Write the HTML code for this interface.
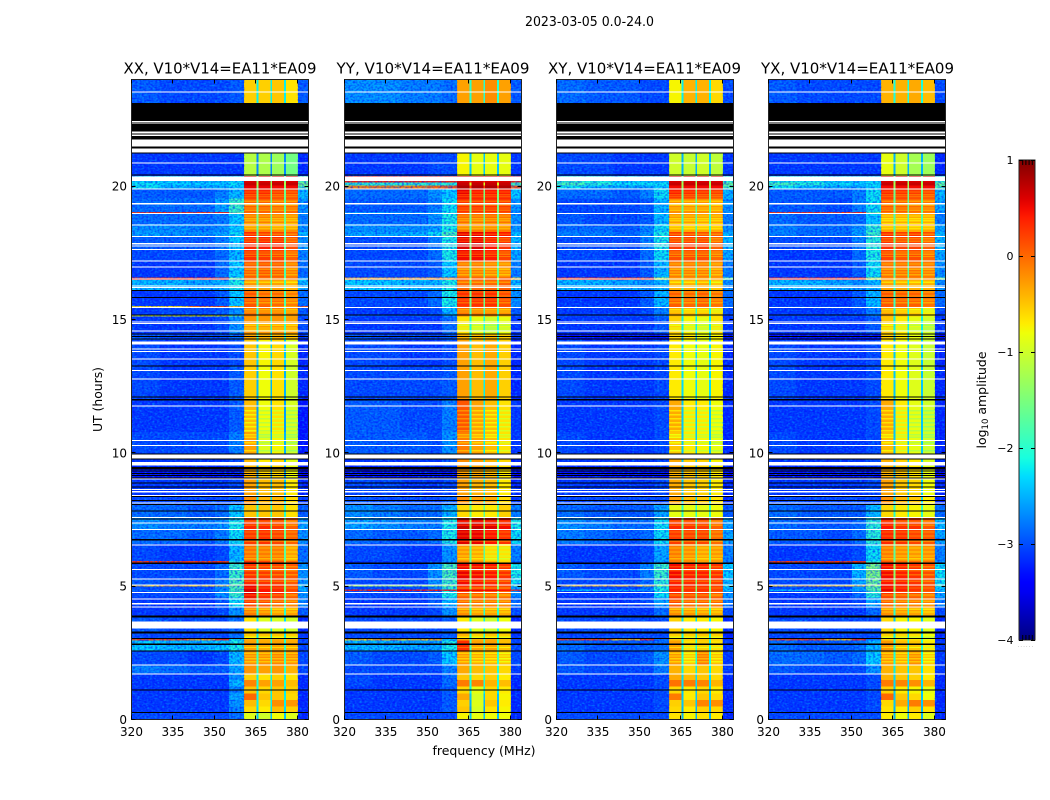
<!DOCTYPE html>
<html lang="en">
<head>
<meta charset="utf-8">
<title>2023-03-05 0.0-24.0</title>
<style>
html,body{margin:0;padding:0;background:#fff;width:1050px;height:800px;overflow:hidden}
svg{display:block}
text{font-family:"DejaVu Sans","Liberation Sans",sans-serif;fill:#000}
</style>
</head>
<body>
<svg id="chart" xmlns="http://www.w3.org/2000/svg" width="1050" height="800" viewBox="0 0 1050 800">
  <defs>
    <filter id="speckle-light" x="0" y="0" width="100%" height="100%" color-interpolation-filters="sRGB">
      <feTurbulence type="fractalNoise" baseFrequency="0.4 0.6" numOctaves="1" seed="3"/>
      <feColorMatrix type="matrix" values="0 0 0 0 0  0 0 0 0 .7  0 0 0 0 1  1.5 0 0 0 -.68"/>
    </filter>
    <filter id="speckle-dark" x="0" y="0" width="100%" height="100%" color-interpolation-filters="sRGB">
      <feTurbulence type="fractalNoise" baseFrequency="0.45 0.55" numOctaves="1" seed="11"/>
      <feColorMatrix type="matrix" values="0 0 0 0 0  0 0 0 0 0  0 0 0 0 1  0 1.5 0 0 -.6"/>
    </filter>
  </defs>
  <rect x="0" y="0" width="1050" height="800" fill="#fff"/>
  <text x="589.5" y="26" text-anchor="middle" font-size="13" textLength="129" lengthAdjust="spacingAndGlyphs">2023-03-05 0.0-24.0</text>
  <text x="484" y="755" text-anchor="middle" font-size="12.5" textLength="103" lengthAdjust="spacingAndGlyphs">frequency (MHz)</text>
  <text transform="translate(102,399.5) rotate(-90)" text-anchor="middle" font-size="12.5" textLength="65" lengthAdjust="spacingAndGlyphs">UT (hours)</text>
  <text transform="translate(986,400) rotate(-90)" text-anchor="middle" font-size="12.5">log<tspan font-size="8.5" dy="2">10</tspan><tspan dy="-2"> amplitude</tspan></text>
  <g id="panels"></g>
  <g id="colorbar"></g>
</svg>
<script>
// Time-block boundaries (UT hours, top to bottom)
const timeEdges = [24,21.25,20.4,20.15,20.05,19.9,19.55,19.05,18.98,18.6,18.3,18.12,17.64,17.22,16.6,16.5,16.1,15.52,15.45,15.2,15.14,14.5,14.25,13.3,12,10.8,10,9.5,9.05,8.4,8.1,7.6,7.14,6.6,5.97,5.9,5.3,5.07,5,4.9,4.83,4.6,4.25,3.9,3.28,3.04,2.98,2.6,2.07,1.73,1.5,1.25,1,.75,.5,.28,0];
// Frequency channel-group boundaries (MHz)
const freqEdges = [320,330,340,350,355,360.5,365,365.8,370,370.7,375,375.7,380,384];
// Which level column each frequency group reads
const levelColumn = [0,1,2,3,4,5,9,6,9,7,9,8,10];

// log10 amplitude per time block: 320-330, 330-340, 340-350, 350-355, 355-360, band1..band4, notch, 380-384
const xxLevels = [
[-2.9,-3,-3,-3,-2.9,-.55,-.55,-.5,-.65,-2.2,-2.9],
[-3.1,-3.1,-3.1,-3.1,-3.1,-1.15,-1.2,-1.3,-1.55,-2.7,-3.2],
[-2.3,-2.3,-2.4,-2.4,-2.3,.6,.6,.6,.6,-1.5,-1.8],
[-2.2,-2.3,-2.3,-2.3,-2.2,.7,.7,.7,.7,-1.2,-1.5],
[-2.2,-2.4,-2.5,-2.5,-2.3,.55,.55,.5,.5,-1.5,-1.8],
[-2.9,-2.9,-2.9,-2.7,-2.4,.35,.35,.25,.2,-1.6,-2.4],
[-2.8,-2.8,-2.8,-2.5,-1.9,.05,.05,0,0,-1.7,-2.6],
[.3,.35,.3,.35,-1.6,0,0,0,0,-1.5,-2.6],
[-2.8,-2.8,-2.8,-2.7,-2.3,-.1,-.1,-.15,-.2,-1.6,-2.7],
[-2.6,-2.6,-2.7,-2.6,-2.3,-.15,-.15,-.2,-.2,-1.7,-2.6],
[-2.5,-2.6,-2.6,-2.5,-2.2,.35,.25,.2,.1,-1.7,-2.4],
[-2.9,-2.9,-2.9,-2.7,-2.3,.35,.4,.35,.15,-1.7,-2.6],
[-3,-3,-3,-2.8,-2.4,.3,.25,.2,.05,-1.7,-2.7],
[-3.1,-3.1,-3.1,-2.8,-2.3,.05,.1,.05,-.1,-1.8,-2.8],
[.3,.35,.3,.3,-1.6,-.1,-.1,-.1,-.1,-1.5,-2.5],
[-2.4,-2.4,-2.5,-2.4,-2.1,-.25,-.3,-.3,-.4,-1.8,-2.4],
[-3.1,-3.1,-3.1,-2.9,-2.3,.1,0,0,-.1,-1.8,-2.8],
[-.6,-.6,0,.2,-.5,.1,.05,-.2,-.3,-1,.1],
[-3.1,-3,-3,-2.9,-2.6,-.05,-.1,-.1,-.2,-1.9,-2.9],
[-.9,-.8,-.8,-.9,-1.5,-.1,-.2,-.2,-.3,-1.5,-2.9],
[-3.1,-3.1,-3.1,-3,-2.6,-.25,-.25,-.25,-.3,-1.9,-3],
[-2.9,-3,-3,-3,-2.8,-.35,-.4,-.4,-.5,-2.1,-3.1],
[-3,-3.1,-3.1,-3.1,-3,-.5,-.75,-.6,-.95,-2.4,-3.2],
[-3,-3.1,-3.1,-3.1,-2.9,-.55,-.8,-.65,-1,-2.5,-3.2],
[-3.1,-3.1,-3.1,-3.1,-2.9,-.45,-.8,-.65,-.95,-2.6,-3.3],
[-3,-3,-3,-3,-2.7,-.3,-.9,-.75,-1,-2.5,-3.3],
[-3.1,-3.1,-3.1,-3.1,-3,-.45,-.7,-.6,-.9,-2.5,-3.2],
[-3.3,-3.3,-3.3,-3.3,-3.3,-.4,-.6,-.6,-.8,-2.6,-3.4],
[-3.1,-3.1,-3.1,-3.1,-3,-.3,-.45,-.45,-.7,-2.4,-3.2],
[-3,-3,-3,-3,-2.9,-.2,-.4,-.4,-.6,-2.3,-3.1],
[-2.8,-2.8,-2.9,-2.8,-2.3,-.5,-.5,-.5,-.65,-2,-2.9],
[-2.6,-2.7,-2.7,-2.6,-2.1,.35,.35,.25,.05,-1.6,-2.5],
[-2.8,-2.8,-2.9,-2.7,-2.2,.25,.3,.2,.05,-1.6,-2.6],
[-3,-3.1,-3.1,-3,-2.4,-.05,-.1,-.1,-.3,-1.7,-2.8],
[.3,.3,.3,.3,-2,.3,.2,.1,0,-1.5,-2.7],
[-3,-3,-3,-2.8,-1.9,.3,.25,.2,.1,-1.6,-2.6],
[-2.9,-3,-3,-2.7,-1.8,.35,.3,.25,.1,-1.5,-2.6],
[-.5,-.4,-.5,-.6,-1.5,.5,.3,.3,.1,-1.2,-2],
[-3,-3,-3,-2.7,-1.8,.55,.4,.35,.15,-1.5,-2.5],
[-2.8,-2.8,-2.8,-2.6,-1.8,.6,.45,.35,.2,-1.5,-2.4],
[-3,-3,-3,-2.6,-1.9,.6,.45,.35,.15,-1.5,-2.6],
[-3.1,-3.1,-3.1,-2.9,-2.2,.3,.2,.1,0,-1.7,-2.7],
[-3.1,-3.1,-3.1,-3,-2.6,-.1,-.2,-.3,-.3,-2,-2.9],
[-2.9,-3,-3,-3,-2.8,-.65,-.9,-.95,-1,-2.3,-3.2],
[-3,-3,-3,-3,-2.8,-.5,-.5,-.5,-.55,-2.2,-3.1],
[.2,.2,-.3,.3,-2.2,-.35,-.4,-.35,-.4,-2,-3.1],
[-2.3,-2.4,-2.4,-2.3,-2.1,-.3,-.35,-.3,-.35,-2,-3],
[-3,-3,-3.1,-3,-2.4,-.2,-.2,-.15,-.2,-1.9,-3],
[-2.7,-2.8,-2.9,-2.9,-2.5,-.25,-.3,-.25,-.4,-2,-3],
[-3.1,-3.1,-3.1,-3.1,-2.6,-.55,-.65,-.55,-.65,-2.2,-3.2],
[-3.1,-3.1,-3.1,-3.1,-2.4,-.15,-.3,-.3,-.45,-2.1,-3.2],
[-3.1,-3.1,-3.1,-3.1,-2.7,-.5,-.6,-.5,-.55,-2.2,-3.2],
[-3.1,-3.1,-3.1,-3.1,-2.5,0,-.5,-.5,-.6,-2.2,-3.2],
[-3.1,-3.1,-3.1,-3.1,-2.6,-.45,-.6,-.2,-.25,-2.2,-3.2],
[-3.1,-3.1,-3.1,-3.1,-2.7,-.6,-.7,-.45,-.55,-2.3,-3.2],
[-3,-3,-3,-3,-2.8,-.9,-1,-.8,-.9,-2.4,-3.2]
];
const yyLevels = [
[-2.6,-2.6,-2.7,-2.7,-2.8,-.3,-.3,-.2,-.3,-2,-2.9],
[-3.1,-3.1,-3.1,-3,-3,-.75,-.85,-.85,-.85,-2.4,-3.1],
[.4,.4,.4,.4,.4,.6,.6,.6,.6,.4,.4],
[-2,-2,-2,-2,-2,.7,.7,.7,.7,-1,-1.8],
[-.1,-.1,-.1,0,.1,.8,.8,.8,.8,.2,.1],
[-2.8,-2.8,-2.8,-2.6,-2.3,.55,.45,.45,.4,-1.5,-2.3],
[-2.9,-2.9,-2.9,-2.7,-2.2,.3,.3,.3,.25,-1.6,-2.6],
[-2.6,-2.6,-2.6,-2.5,-2.1,.15,.1,.1,.1,-1.6,-2.6],
[-2.8,-2.8,-2.8,-2.6,-2.1,0,-.05,0,-.05,-1.6,-2.6],
[-2.6,-2.6,-2.6,-2.5,-2.1,-.05,-.1,-.05,-.1,-1.6,-2.6],
[-2.5,-2.5,-2.4,-2.2,-1.8,.6,.55,.5,.45,-1.5,-2.3],
[-3,-3,-3,-2.7,-2.1,.6,.6,.45,.3,-1.5,-2.4],
[-3,-3,-3,-2.8,-2.1,.5,.5,.4,.2,-1.5,-2.5],
[-3,-3,-3,-2.9,-2.3,-.1,-.1,-.15,-.2,-1.7,-2.7],
[-.3,-.3,-.3,-.2,-.2,.1,.1,.1,.1,-1,-.5],
[-2.3,-2.3,-2.4,-2.4,-2.1,0,0,0,.05,-1.7,-2.4],
[-3,-3,-3,-2.8,-2.1,.3,.3,.3,.15,-1.6,-2.6],
[-3,-3,-3,-2.9,-2.2,.2,.2,.15,.1,-1.6,-2.6],
[-3.1,-3.1,-3.1,-3,-2.4,-.05,-.1,-.15,-.2,-1.8,-2.9],
[-2.9,-2.9,-2.9,-2.9,-2.5,-.15,-.2,-.2,-.3,-1.9,-2.9],
[-3.1,-3.1,-3.1,-3.1,-2.8,-.65,-.85,-1,-.85,-2.1,-3.1],
[-2.9,-3,-3,-3,-2.9,-.4,-.45,-.45,-.55,-2,-3.1],
[-3,-3,-3.1,-3.1,-3,-.3,-.45,-.35,-.55,-2.2,-3.2],
[-3,-3,-3,-3,-2.9,-.3,-.45,-.35,-.55,-2.2,-3.2],
[-2.9,-2.9,-3,-3,-2.7,.1,-.3,-.45,-.65,-2.2,-3.1],
[-2.9,-2.9,-2.9,-3,-2.6,-.1,-.3,-.45,-.65,-2.2,-3.1],
[-3.1,-3.1,-3.1,-3.1,-2.9,-.2,-.3,-.4,-.6,-2.2,-3.2],
[-3.3,-3.3,-3.3,-3.3,-3.3,-.3,-.35,-.45,-.7,-2.3,-3.4],
[-3,-3,-3.1,-3.1,-3,-.3,-.4,-.45,-.7,-2.2,-3.2],
[-2.9,-3,-3,-3,-2.9,-.2,-.3,-.35,-.6,-2.1,-3.1],
[-2.6,-2.7,-2.8,-2.8,-2.4,-.6,-.7,-.7,-.55,-1.7,-2.7],
[-2.5,-2.6,-2.7,-2.7,-2.1,.7,.7,.6,.5,-1.3,-2.1],
[-2.8,-2.9,-2.9,-2.8,-2.1,.6,.55,.45,.3,-1.4,-2.2],
[-3,-3,-3.1,-3.1,-2.6,-.25,-.35,-.6,-.65,-1.7,-2.7],
[-3.1,-3.1,-3.1,-3,-2.6,-.1,-.2,-.4,-.6,-1.8,-2.8],
[-2.9,-3,-3,-2.6,-1.8,.55,.5,.45,.3,-1.4,-2.1],
[-3,-3,-3,-2.6,-1.9,.5,.45,.35,.25,-1.4,-2.2],
[-1.2,-1.2,-1.3,-1.3,-1.4,.4,.4,.35,.25,-1.2,-1.8],
[-3,-3,-3,-2.7,-2,.2,.15,.15,.1,-1.5,-2.5],
[.4,.45,.45,.4,.35,.55,.5,.5,.45,.4,.3],
[-3,-3,-3,-2.8,-2.1,.15,.1,.05,0,-1.6,-2.6],
[-3.1,-3.1,-3.1,-2.9,-2.4,.05,0,0,-.05,-1.7,-2.8],
[-3.1,-3.1,-3.1,-3,-2.6,-.2,-.3,-.3,-.35,-2,-3],
[-3,-3,-3,-3,-2.9,-.7,-.9,-1,-.8,-2.2,-3.2],
[-3,-3,-3,-3,-2.9,-.4,-.55,-.5,-.55,-2.1,-3.1],
[-.5,-.3,-.5,-.3,-2.4,-.3,-.4,-.35,-.45,-2,-3.1],
[-2.4,-2.4,-2.5,-2.5,-2.1,.3,-.3,-.3,-.45,-1.9,-3],
[-2.9,-3,-3,-2.9,-2.3,-.25,-.35,-.4,-.5,-1.9,-3],
[-3,-3,-3,-3,-2.7,-.35,-.45,-.5,-.6,-2,-3.1],
[-3,-3.1,-3.1,-3.1,-2.8,-.5,-.6,-.55,-.7,-2.1,-3.2],
[-3,-3.1,-3.1,-3.1,-2.8,-.1,-.15,-.4,-.45,-2.1,-3.2],
[-3.1,-3.1,-3.1,-3.1,-2.9,-.6,-.85,-.6,-.7,-2.2,-3.2],
[-3.1,-3.1,-3.1,-3.1,-2.9,-.35,-.95,-.6,-.75,-2.4,-3.2],
[-3.1,-3.1,-3.1,-3.1,-2.9,-.55,-.9,-.5,-.7,-2.5,-3.2],
[-3.1,-3.1,-3.1,-3.1,-2.9,-.5,-.95,-.65,-.75,-2.6,-3.2],
[-3,-3,-3,-3,-3,-.75,-.85,-.8,-.8,-2.4,-3.2]
];
const xyLevels = [
[-2.8,-2.9,-2.9,-3,-3,-.75,-.4,-.4,-.6,-2.2,-3],
[-3,-3,-3.1,-3.1,-3.1,-1,-1.05,-1,-1.1,-2.5,-3.1],
[-2,-2.1,-2.3,-2.4,-2.4,.6,.6,.6,.6,-1.5,-2],
[-1.8,-2,-2.2,-2.2,-2.2,.7,.7,.7,.7,-1.2,-1.6],
[-2.2,-2.4,-2.5,-2.5,-2.3,.5,.5,.5,.5,-1.4,-1.8],
[-2.8,-2.8,-2.9,-2.7,-2.2,.4,.35,.3,.25,-1.6,-2.4],
[-3,-3,-3,-2.9,-2.4,-.2,-.2,-.2,-.25,-1.7,-2.6],
[-3,-3,-3,-2.9,-2.4,-.2,-.2,-.2,-.25,-1.7,-2.6],
[-2.9,-3,-3,-2.9,-2.4,-.25,-.25,-.3,-.3,-1.8,-2.7],
[-2.8,-2.8,-2.9,-2.7,-2.2,-.3,-.35,-.35,-.35,-1.8,-2.6],
[-2.7,-2.7,-2.8,-2.6,-2.1,.25,.2,.15,.1,-1.6,-2.4],
[-3,-3,-3,-2.7,-2.1,.25,.25,.25,.05,-1.6,-2.4],
[-3,-3,-3.1,-2.8,-2.2,.15,.15,.15,0,-1.7,-2.5],
[-3.1,-3.1,-3.1,-2.9,-2.4,-.1,-.1,-.1,-.2,-1.8,-2.7],
[.3,.35,.3,.3,-1,-.3,-.3,-.3,-.3,-1.2,-1.6],
[-2.4,-2.4,-2.5,-2.6,-2.4,-.4,-.4,-.35,-.5,-2,-2.6],
[-3.1,-3.1,-3.1,-2.9,-2.4,.05,0,.05,-.05,-1.9,-2.8],
[-3,-3,-3,-2.9,-2.5,.05,0,0,-.1,-1.9,-2.8],
[-3.1,-3.1,-3.1,-3,-2.7,-.35,-.45,-.45,-.6,-2,-3],
[-3,-3,-3,-3,-2.7,-.4,-.5,-.5,-.6,-2,-3],
[-3.1,-3.1,-3.1,-3.1,-2.9,-.55,-.75,-.85,-.65,-2.2,-3.1],
[-3.3,-3.3,-3.3,-3.3,-3.3,-.6,-.7,-.85,-.75,-2.4,-3.3],
[-3,-3.1,-3.1,-3.1,-3,-.7,-.8,-.85,-.75,-2.3,-3.2],
[-3,-3.1,-3.1,-3.1,-3,-.7,-.8,-.85,-.75,-2.3,-3.2],
[-3.1,-3.1,-3.1,-3.1,-3,-.35,-.7,-.7,-.8,-2.4,-3.2],
[-3,-3.1,-3.1,-3.1,-3,-.5,-.7,-.75,-.85,-2.4,-3.2],
[-3.1,-3.1,-3.1,-3.1,-3,-.35,-.55,-.55,-.75,-2.4,-3.2],
[-3.3,-3.3,-3.3,-3.3,-3.3,-.4,-.5,-.55,-.7,-2.5,-3.4],
[-3.1,-3.1,-3.1,-3.1,-3,-.35,-.5,-.55,-.7,-2.4,-3.2],
[-3,-3,-3,-3,-3,-.3,-.45,-.5,-.65,-2.3,-3.2],
[-2.8,-2.9,-2.9,-2.9,-2.5,-.85,-.85,-.85,-.8,-2,-2.9],
[-2.6,-2.7,-2.8,-2.8,-2.2,.35,.3,.25,.05,-1.6,-2.5],
[-2.7,-2.8,-2.9,-2.8,-2.2,.25,.2,.2,0,-1.6,-2.5],
[-3.1,-3.1,-3.1,-3,-2.5,-.1,-.2,-.3,-.25,-1.7,-2.7],
[-3.1,-3.1,-3.1,-3,-2.5,-.1,-.2,-.3,-.25,-1.7,-2.7],
[-2.9,-3,-3,-2.7,-1.9,.5,.4,.4,.3,-1.5,-2.3],
[-3,-3,-3,-2.8,-2,.4,.35,.3,.25,-1.5,-2.4],
[-.5,-.4,-.4,-.5,-1.4,.4,.35,.3,.2,-1.3,-2],
[-3,-3,-3,-2.8,-2.1,.4,.3,.3,.2,-1.5,-2.4],
[-2.4,-2.4,-2.5,-2.6,-2,.4,.3,.3,.2,-1.4,-2.3],
[-3.1,-3.1,-3.1,-3,-2.2,.3,.25,.25,.1,-1.6,-2.6],
[-3.1,-3.1,-3.1,-3,-2.5,.2,.1,.1,.05,-1.7,-2.7],
[-3.1,-3.1,-3.1,-3.1,-2.8,-.2,-.25,-.3,-.35,-2,-3],
[-3,-3,-3,-3,-3,-.55,-.7,-.7,-.75,-2.3,-3.2],
[-3,-3,-3,-3,-3,-.55,-.55,-.5,-.55,-2.2,-3.2],
[.2,.2,-.4,.3,-2.8,-.5,-.55,-.5,-.55,-2.1,-3.2],
[-2.8,-2.9,-2.9,-2.9,-2.8,-.3,-.65,-.55,-.65,-2.1,-3.1],
[-2.9,-3,-3,-2.9,-2.6,-.25,-.5,-.1,-.45,-2.1,-3.1],
[-2.9,-3,-3,-3,-2.7,-.4,-.6,-.5,-.6,-2.2,-3.1],
[-3.1,-3.1,-3.1,-3.1,-3,-.35,-.45,-.5,-.6,-2.3,-3.2],
[-3.1,-3.1,-3.1,-3.1,-3,-.05,-.1,-.15,-.4,-2.3,-3.2],
[-3.1,-3.1,-3.1,-3.1,-3,-.6,-.7,-.6,-.7,-2.4,-3.2],
[-3.1,-3.1,-3.1,-3.1,-3,-.1,-.7,-.5,-.6,-2.4,-3.2],
[-3.1,-3.1,-3.1,-3.1,-3,-.55,-.5,-.15,-.2,-2.4,-3.2],
[-3.1,-3.1,-3.1,-3.1,-3,-.6,-.7,-.55,-.6,-2.5,-3.2],
[-3,-3,-3,-3,-3,-.65,-.75,-.65,-.7,-2.5,-3.2]
];
const yxLevels = [
[-2.9,-3,-3,-3,-3,-.4,-.4,-.35,-.45,-2.1,-3],
[-3.1,-3.1,-3.1,-3.1,-3.1,-.85,-1,-1.25,-1.3,-2.5,-3.2],
[-2.2,-2.2,-2.3,-2.4,-2.3,.6,.6,.6,.6,-1.5,-2],
[-1.8,-2,-2.2,-2.3,-2.2,.7,.7,.7,.7,-1.2,-1.6],
[-2.2,-2.4,-2.5,-2.5,-2.3,.5,.5,.5,.5,-1.4,-1.8],
[-2.9,-2.9,-2.9,-2.7,-2.2,.35,.3,.25,.2,-1.6,-2.4],
[-2.9,-2.9,-3,-2.7,-2.2,.1,.05,0,-.05,-1.7,-2.5],
[.3,.35,.3,.35,-1.6,-.1,-.1,-.1,-.1,-1.5,-2.6],
[-2.8,-2.9,-2.9,-2.8,-2.3,-.35,-.35,-.35,-.35,-1.8,-2.7],
[-2.7,-2.8,-2.8,-2.6,-2,-.3,-.3,-.35,-.3,-1.8,-2.5],
[-2.7,-2.8,-2.8,-2.5,-1.9,.35,.25,.3,.15,-1.6,-2.4],
[-3,-3,-3,-2.7,-2,.3,.2,.2,.05,-1.6,-2.4],
[-3.1,-3.1,-3.1,-2.8,-2.1,.2,.1,.15,0,-1.7,-2.5],
[-3.1,-3.1,-3.1,-2.9,-2.2,-.05,-.05,-.05,-.1,-1.8,-2.6],
[.35,.4,.35,.35,-1,-.2,-.2,-.2,-.2,-1.2,-1.5],
[-2.4,-2.4,-2.5,-2.6,-2.4,-.3,-.35,-.4,-.4,-2,-2.6],
[-3.1,-3.1,-3.1,-2.9,-2.4,.1,.05,.05,-.05,-1.9,-2.8],
[-3,-3,-3,-2.9,-2.4,.1,.05,0,-.1,-1.9,-2.8],
[-3.1,-3.1,-3.1,-3,-2.7,-.3,-.4,-.5,-.7,-2,-3],
[-3,-3,-3,-3,-2.7,-.35,-.45,-.55,-.75,-2,-3],
[-3.1,-3.1,-3.1,-3.1,-2.9,-.5,-.7,-.85,-1,-2.2,-3.1],
[-3.3,-3.3,-3.3,-3.3,-3.3,-.55,-.7,-.85,-1,-2.4,-3.3],
[-3,-3.1,-3.1,-3.1,-3,-.7,-.8,-.9,-1.05,-2.4,-3.2],
[-3,-3.1,-3.1,-3.1,-3,-.7,-.8,-.9,-1.05,-2.4,-3.2],
[-3.1,-3.1,-3.1,-3.1,-3,-.35,-.7,-.85,-1,-2.4,-3.2],
[-3,-3.1,-3.1,-3.1,-3,-.45,-.7,-.85,-1,-2.4,-3.2],
[-3.1,-3.1,-3.1,-3.1,-3,-.4,-.55,-.7,-.95,-2.4,-3.2],
[-3.3,-3.3,-3.3,-3.3,-3.3,-.4,-.5,-.65,-.85,-2.5,-3.4],
[-3.1,-3.1,-3.1,-3.1,-3,-.3,-.5,-.6,-.8,-2.4,-3.2],
[-3,-3,-3,-3,-3,-.2,-.4,-.5,-.7,-2.3,-3.2],
[-2.8,-2.9,-2.9,-2.9,-2.4,-.6,-.7,-.75,-.85,-2,-2.8],
[-2.8,-2.9,-2.9,-2.8,-2,.45,.3,.3,.1,-1.6,-2.4],
[-2.9,-2.9,-3,-2.8,-2,.35,.3,.2,.1,-1.6,-2.5],
[-3.1,-3.1,-3.1,-3,-2.2,-.1,-.2,-.25,-.2,-1.7,-2.7],
[.3,.3,.3,.3,-2,.1,0,0,-.05,-1.6,-2.6],
[-3,-3,-3,-2.4,-1.5,.5,.4,.3,.15,-1.4,-2.2],
[-3,-3,-3,-2.5,-1.6,.45,.4,.3,.15,-1.4,-2.2],
[-.5,-.4,-.5,-.5,-1.3,.45,.35,.3,.15,-1.2,-1.9],
[-3,-3,-3,-2.6,-1.7,.5,.4,.3,.15,-1.4,-2.3],
[-2.4,-2.4,-2.5,-2.5,-1.7,.55,.4,.3,.15,-1.4,-2.3],
[-3.1,-3.1,-3.1,-2.8,-2,.3,.2,.15,.05,-1.6,-2.5],
[-3.1,-3.1,-3.1,-3,-2.5,.1,0,0,-.1,-1.8,-2.7],
[-3.1,-3.1,-3.1,-3.1,-2.8,-.2,-.25,-.3,-.4,-2,-3],
[-3,-3,-3,-3,-3,-.6,-.75,-.75,-.9,-2.4,-3.2],
[-3,-3,-3,-3,-3,-.55,-.6,-.65,-.8,-2.2,-3.2],
[.2,.2,-.4,.3,-2.8,-.55,-.6,-.65,-.8,-2.1,-3.2],
[-2.8,-2.9,-2.9,-2.8,-2.4,-.25,-.45,-.5,-.7,-2.1,-3.1],
[-2.8,-2.8,-2.9,-2.8,-2.3,-.25,-.35,-.2,-.5,-2.1,-3.1],
[-2.9,-3,-3,-3,-2.6,-.4,-.5,-.5,-.65,-2.2,-3.1],
[-3.1,-3.1,-3.1,-3.1,-3,-.4,-.5,-.55,-.7,-2.3,-3.2],
[-3.1,-3.1,-3.1,-3.1,-3,-.1,-.15,-.2,-.4,-2.3,-3.2],
[-3.1,-3.1,-3.1,-3.1,-3,-.55,-.7,-.75,-.85,-2.4,-3.2],
[-3.1,-3.1,-3.1,-3.1,-3,0,-.5,-.6,-.8,-2.4,-3.2],
[-3.1,-3.1,-3.1,-3.1,-3,-.6,-.35,-.1,-.2,-2.4,-3.2],
[-3.1,-3.1,-3.1,-3.1,-3,-.65,-.7,-.55,-.65,-2.5,-3.2],
[-3,-3,-3,-3,-3,-.7,-.8,-.7,-.9,-2.5,-3.2]
];

// Integrations where the passband dips below its block level (hour)
const rippleRows = [19.8,19.7,19.62,19.45,19.3,19.2,19.12,18.9,18.8,18.72,18.62,18.5,18.42,18.22,18.05,17.95,17.55,17.46,17.38,17.1,16.9,16.8,16.7,16.42,16.05,15.9,15.75,15.65,15.38,15.3,14.8,14.7,14.62,11.6,11.45,11.3,11.15,11,10.85,10.7,10.6,10.4,10.1,7.45,7.3,7.05,6.9,6.7,6.45,6.3,6.15,6.05,5.75,5.6,5.45,5.2,4.95,4.7,4.65,4.45,4.32,4.15,4.05,3.1,2.72,2.5,2.4,2.3,2.18];
const rippleDepth = -.3;

// Blanked data: [start hour, end hour] and single integrations (hour)
const whiteBands = [[21.77,21.5],[21.43,21.28],[20.38,20.22],[14.2,14.08],[9.96,9.8],[9.67,9.54],[3.7,3.48]];
const whiteRows = [23.55,22.45,22.39,22.04,21.98,21.92,20.89,19.91,19.36,18.99,18.57,18.13,17.86,17.78,17.64,17.22,16.98,16.53,16.27,16.22,15.47,14.92,14.87,14.58,13.92,13.82,13.54,13.1,12.79,11.78,10.48,10.29,9.04,8.65,8.56,8.42,8.13,7.6,7.39,7.14,6.57,5.64,5.29,5.07,4.78,4.54,4.36,4.24,3.46,2.07,1.73];
const blackBands = [[23.13,21.25],[9.48,9.39]];
const blackRows = [20.43,16.1,15.84,15.19,14.47,14.38,14.29,13.27,12.12,12.01,9.98,9.78,9.33,9.25,9.17,9.07,8.89,8.73,8.39,8.23,8.08,7.83,7.54,6.76,5.89,5.87,3.89,3.87,3.29,3.27,3.06,2.85,2.83,2.59,1.13,.28];

const panelNames = ['xx','yy','xy','yx'];
const panelTitles = ['XX, V10*V14=EA11*EA09','YY, V10*V14=EA11*EA09','XY, V10*V14=EA11*EA09','YX, V10*V14=EA11*EA09'];
const panelLevels = [xxLevels,yyLevels,xyLevels,yxLevels];
const panelLefts = [132,345,557,769];
const panelTitleCenters = [220,433,644.5,857.5];

const xTicks = [320,335,350,365,380];
const yTicks = [0,5,10,15,20];
const colorbarTicks = [1,0,-1,-2,-3,-4];

const NS = 'http://www.w3.org/2000/svg';
const PANEL_W = 177, PLOT_TOP = 80, PLOT_H = 640, F0 = 320, F1 = 384, T1 = 24, VMIN = -4, VMAX = 1;
const TEXTURE_RANGES = [[320,360.5],[380,384]];
const scaleY = t => PLOT_TOP + (T1 - t) * PLOT_H / T1;
const scaleX = (left, f) => left + (f - F0) * PANEL_W / (F1 - F0);
const RAMP = (x, pts) => {
  for (let i = 1; i < pts.length; i++) {
    if (x <= pts[i][0]) {
      const a = pts[i-1], b = pts[i];
      return a[1] + (b[1]-a[1]) * (x-a[0]) / (b[0]-a[0]);
    }
  }
  return pts[pts.length-1][1];
};
function jet(v) {
  const x = Math.max(0, Math.min(1, (v - VMIN) / (VMAX - VMIN)));
  const r = RAMP(x, [[0,0],[.35,0],[.66,1],[.89,1],[1,.5]]);
  const g = RAMP(x, [[0,0],[.125,0],[.375,1],[.64,1],[.91,0],[1,0]]);
  const b = RAMP(x, [[0,.5],[.11,1],[.34,1],[.65,0],[1,0]]);
  return `rgb(${Math.round(r*255)},${Math.round(g*255)},${Math.round(b*255)})`;
}
function node(tag, attrs, parent) {
  const el = document.createElementNS(NS, tag);
  for (const k in attrs) el.setAttribute(k, attrs[k]);
  parent.appendChild(el);
  return el;
}
function tickLabel(v) {
  return v < 0 ? '\u2212' + Math.abs(v) : String(v);
}

const panelsRoot = document.getElementById('panels');
panelNames.forEach((name, p) => {
  const left = panelLefts[p], levels = panelLevels[p];
  const g = node('g', {}, panelsRoot);
  
  

  const title = node('text', {x: panelTitleCenters[p], y: 73.5, 'text-anchor': 'middle', 'font-size': 15.5, textLength: 193, lengthAdjust: 'spacingAndGlyphs'}, g);
  title.textContent = panelTitles[p];
  
  

  const cells = node('g', {'shape-rendering': 'crispEdges'}, g);
  
  

  levels.forEach((row, r) => {
    const y0 = scaleY(timeEdges[r]), y1 = scaleY(timeEdges[r + 1]);
    levelColumn.forEach((col, c) => {
      const x0 = scaleX(left, freqEdges[c]), x1 = scaleX(left, freqEdges[c + 1]);
      const cell = node('rect', {x: x0, y: y0, width: x1 - x0, height: y1 - y0, fill: jet(row[col])}, cells);
      
      
    });
  });

  rippleRows.forEach(t => {
    const r = timeEdges.findIndex((e, i) => i < timeEdges.length - 1 && t <= e && t > timeEdges[i + 1]);
    levelColumn.forEach((col, c) => {
      if (col < 5 || col > 8) return;
      const x0 = scaleX(left, freqEdges[c]), x1 = scaleX(left, freqEdges[c + 1]);
      const cell = node('rect', {x: x0, y: scaleY(t + .025), width: x1 - x0, height: scaleY(t - .025) - scaleY(t + .025), fill: jet(levels[r][col] + rippleDepth)}, cells);
      
      
    });
  });

  TEXTURE_RANGES.forEach(range => {
    const x0 = scaleX(left, range[0]), x1 = scaleX(left, range[1]);
    const lightNoise = node('rect', {x: x0, y: PLOT_TOP, width: x1 - x0, height: PLOT_H, filter: 'url(#speckle-light)'}, g);
    
    
    const darkNoise = node('rect', {x: x0, y: PLOT_TOP, width: x1 - x0, height: PLOT_H, filter: 'url(#speckle-dark)'}, g);
    
    
  });

  const masks = node('g', {'shape-rendering': 'crispEdges'}, g);
  
  
  const maskRect = (t0, t1, color, label) => {
    const m = node('rect', {x: left, y: scaleY(t0), width: PANEL_W, height: scaleY(t1) - scaleY(t0), fill: color}, masks);
    
    
  };
  blackBands.forEach(b => maskRect(b[0], b[1], '#000', 'flagged-black-band'));
  blackRows.forEach(t => maskRect(t + .02, t - .02, '#000', 'flagged-black-row'));
  whiteBands.forEach(b => maskRect(b[0], b[1], '#fff', 'blank-white-band'));
  whiteRows.forEach(t => maskRect(t + .02, t - .02, '#fff', 'blank-white-row'));

  const axis = node('g', {stroke: '#000', 'stroke-width': 1, fill: 'none'}, g);
  
  
  const frame = node('rect', {x: left - .5, y: PLOT_TOP - .5, width: PANEL_W, height: PLOT_H}, axis);
  frame.setAttribute('stroke', '#222');
  
  

  xTicks.forEach(f => {
    const x = Math.round(scaleX(left, f)) - .5;
    const tb = node('line', {x1: x, x2: x, y1: PLOT_TOP + PLOT_H - .5, y2: PLOT_TOP + PLOT_H - 4.5}, axis);
    
    
    const tt = node('line', {x1: x, x2: x, y1: PLOT_TOP - .5, y2: PLOT_TOP + 3.5}, axis);
    
    
    const lab = node('text', {x: scaleX(left, f) - .5, y: 736, 'text-anchor': 'middle', 'font-size': 12, stroke: 'none'}, g);
    lab.textContent = f;
    
    
  });
  yTicks.forEach(t => {
    const y = Math.round(scaleY(t)) - .5;
    const tl = node('line', {x1: left - .5, x2: left + 3.5, y1: y, y2: y}, axis);
    
    
    const tr = node('line', {x1: left + PANEL_W - .5, x2: left + PANEL_W - 4.5, y1: y, y2: y}, axis);
    
    
    const lab = node('text', {x: left - 5, y: scaleY(t) + 4, 'text-anchor': 'end', 'font-size': 12, stroke: 'none'}, g);
    lab.textContent = t;
    
    
  });
});

// Colorbar
const cb = document.getElementById('colorbar');
const CB_X = 1019, CB_W = 16, CB_TOP = 160, CB_H = 480;
const cbY = v => CB_TOP + (VMAX - v) * CB_H / (VMAX - VMIN);
const defs = node('defs', {}, cb);
const grad = node('linearGradient', {id: 'jet-grad', x1: 0, y1: 1, x2: 0, y2: 0}, defs);
for (let i = 0; i <= 50; i++) {
  node('stop', {offset: i / 50, 'stop-color': jet(VMIN + (VMAX - VMIN) * i / 50)}, grad);
}
const bar = node('rect', {x: CB_X, y: CB_TOP, width: CB_W, height: CB_H, fill: 'url(#jet-grad)', stroke: '#222', 'stroke-width': 1}, cb);


colorbarTicks.forEach(v => {
  const y = Math.round(cbY(v)) + .5;
  const a = node('line', {x1: CB_X, x2: CB_X + 4, y1: y, y2: y, stroke: '#000'}, cb);
  
  
  const b = node('line', {x1: CB_X + CB_W, x2: CB_X + CB_W - 4, y1: y, y2: y, stroke: '#000'}, cb);
  
  
  const lab = node('text', {x: 1013.5, y: cbY(v) + 4, 'text-anchor': 'end', 'font-size': 11}, cb);
  lab.textContent = tickLabel(v);
  
  
});
for (let i = 1; i <= 4; i++) {
  const x = CB_X + i * CB_W / 5 + .5;
  const top = node('line', {x1: x, x2: x, y1: CB_TOP, y2: CB_TOP + 5, stroke: '#000'}, cb);
  
  
  const bot = node('line', {x1: x, x2: x, y1: CB_TOP + CB_H, y2: CB_TOP + CB_H - 5, stroke: '#000'}, cb);
  
  
}
const dots = node('text', {x: 1026, y: 647, 'text-anchor': 'middle', 'font-size': 5, 'letter-spacing': '1.2'}, cb);
dots.textContent = '......';
dots.style.fill = '#888';


</script>
</body>
</html>
